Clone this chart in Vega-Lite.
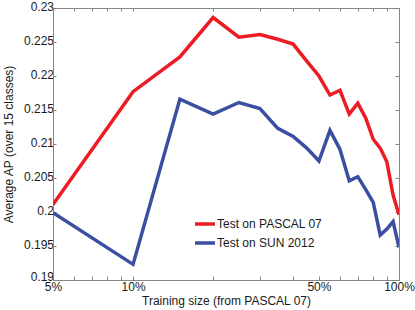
{
  "$schema": "https://vega.github.io/schema/vega-lite/v6.json",
  "width": 346,
  "height": 272,
  "autosize": "none",
  "padding": {"left": 53, "top": 8, "right": 16, "bottom": 30},
  "config": {
    "font": "Liberation Sans",
    "view": {"stroke": null},
    "axis": {"grid": false, "domainColor": "#858585", "tickColor": "#858585", "labelColor": "#1a1a1a", "titleColor": "#1a1a1a", "labelFontSize": 12, "titleFontSize": 12, "titleFontWeight": "normal", "labelFont": "Liberation Sans", "titleFont": "Liberation Sans"}
  },
  "data": {"values": [
    {"size": 5, "ap": 0.2011, "series": "Test on PASCAL 07"},
    {"size": 10, "ap": 0.2177, "series": "Test on PASCAL 07"},
    {"size": 15, "ap": 0.2228, "series": "Test on PASCAL 07"},
    {"size": 20, "ap": 0.2286, "series": "Test on PASCAL 07"},
    {"size": 25, "ap": 0.2257, "series": "Test on PASCAL 07"},
    {"size": 30, "ap": 0.2261, "series": "Test on PASCAL 07"},
    {"size": 35, "ap": 0.2254, "series": "Test on PASCAL 07"},
    {"size": 40, "ap": 0.2247, "series": "Test on PASCAL 07"},
    {"size": 45, "ap": 0.2222, "series": "Test on PASCAL 07"},
    {"size": 50, "ap": 0.2200, "series": "Test on PASCAL 07"},
    {"size": 55, "ap": 0.2172, "series": "Test on PASCAL 07"},
    {"size": 60, "ap": 0.2179, "series": "Test on PASCAL 07"},
    {"size": 65, "ap": 0.2144, "series": "Test on PASCAL 07"},
    {"size": 70, "ap": 0.2160, "series": "Test on PASCAL 07"},
    {"size": 75, "ap": 0.2138, "series": "Test on PASCAL 07"},
    {"size": 80, "ap": 0.2107, "series": "Test on PASCAL 07"},
    {"size": 85, "ap": 0.2094, "series": "Test on PASCAL 07"},
    {"size": 90, "ap": 0.2074, "series": "Test on PASCAL 07"},
    {"size": 95, "ap": 0.2025, "series": "Test on PASCAL 07"},
    {"size": 100, "ap": 0.1996, "series": "Test on PASCAL 07"},
    {"size": 5, "ap": 0.1999, "series": "Test on SUN 2012"},
    {"size": 10, "ap": 0.1923, "series": "Test on SUN 2012"},
    {"size": 15, "ap": 0.2166, "series": "Test on SUN 2012"},
    {"size": 20, "ap": 0.2144, "series": "Test on SUN 2012"},
    {"size": 25, "ap": 0.2161, "series": "Test on SUN 2012"},
    {"size": 30, "ap": 0.2152, "series": "Test on SUN 2012"},
    {"size": 35, "ap": 0.2123, "series": "Test on SUN 2012"},
    {"size": 40, "ap": 0.2111, "series": "Test on SUN 2012"},
    {"size": 45, "ap": 0.2094, "series": "Test on SUN 2012"},
    {"size": 50, "ap": 0.2075, "series": "Test on SUN 2012"},
    {"size": 55, "ap": 0.2120, "series": "Test on SUN 2012"},
    {"size": 60, "ap": 0.2092, "series": "Test on SUN 2012"},
    {"size": 65, "ap": 0.2046, "series": "Test on SUN 2012"},
    {"size": 70, "ap": 0.2052, "series": "Test on SUN 2012"},
    {"size": 75, "ap": 0.2033, "series": "Test on SUN 2012"},
    {"size": 80, "ap": 0.2014, "series": "Test on SUN 2012"},
    {"size": 85, "ap": 0.1966, "series": "Test on SUN 2012"},
    {"size": 90, "ap": 0.1975, "series": "Test on SUN 2012"},
    {"size": 95, "ap": 0.1986, "series": "Test on SUN 2012"},
    {"size": 100, "ap": 0.1948, "series": "Test on SUN 2012"}
  ]},
  "layer": [
    {
      "mark": {"type": "line", "strokeWidth": 3.5, "clip": true},
      "encoding": {
        "x": {"field": "size", "type": "quantitative",
          "scale": {"type": "log", "domain": [5, 100], "nice": false},
          "axis": {"orient": "bottom", "title": "Training size (from PASCAL 07)",
            "values": [5,6,7,8,9,10,20,30,40,50,60,70,80,90,100],
            "labelExpr": "indexof([5,10,50,100], datum.value) >= 0 ? datum.value + '%' : ''",
            "labelFlush": false, "labelOverlap": false, "tickSize": -4, "labelPadding": 5, "titlePadding": 3}},
        "y": {"field": "ap", "type": "quantitative",
          "scale": {"domain": [0.19, 0.23], "nice": false, "zero": false},
          "axis": {"orient": "left", "title": "Average AP (over 15 classes)",
            "values": [0.19,0.195,0.2,0.205,0.21,0.215,0.22,0.225,0.23],
            "format": "~g", "tickSize": -3, "labelPadding": 2.5,
            "labelOffset": {"condition": {"test": "datum.value <= 0.1901", "value": -3.5}, "value": -1.5},
            "titlePadding": 8}},
        "color": {"field": "series", "type": "nominal",
          "scale": {"domain": ["Test on PASCAL 07", "Test on SUN 2012"], "range": ["#ec1c24", "#3a4ea2"]},
          "legend": {"orient": "none", "legendX": 140, "legendY": 204, "title": null,
            "symbolType": "stroke", "symbolStrokeWidth": 3.5, "symbolSize": 400,
            "labelFontSize": 12, "labelFont": "Liberation Sans", "labelColor": "#1a1a1a", "labelOffset": 0, "rowPadding": -3}}
      }
    },
    {
      "mark": {"type": "line", "strokeOpacity": 0},
      "encoding": {
        "x": {"field": "size", "type": "quantitative",
          "axis": {"orient": "top", "title": null, "labels": false,
            "values": [5,6,7,8,9,10,20,30,40,50,60,70,80,90,100], "tickSize": -3}},
        "y": {"field": "ap", "type": "quantitative",
          "axis": {"orient": "right", "title": null, "labels": false,
            "values": [0.19,0.195,0.2,0.205,0.21,0.215,0.22,0.225,0.23], "tickSize": -4}},
        "detail": {"field": "series", "type": "nominal"}
      }
    }
  ],
  "resolve": {"axis": {"x": "independent", "y": "independent"}}
}
